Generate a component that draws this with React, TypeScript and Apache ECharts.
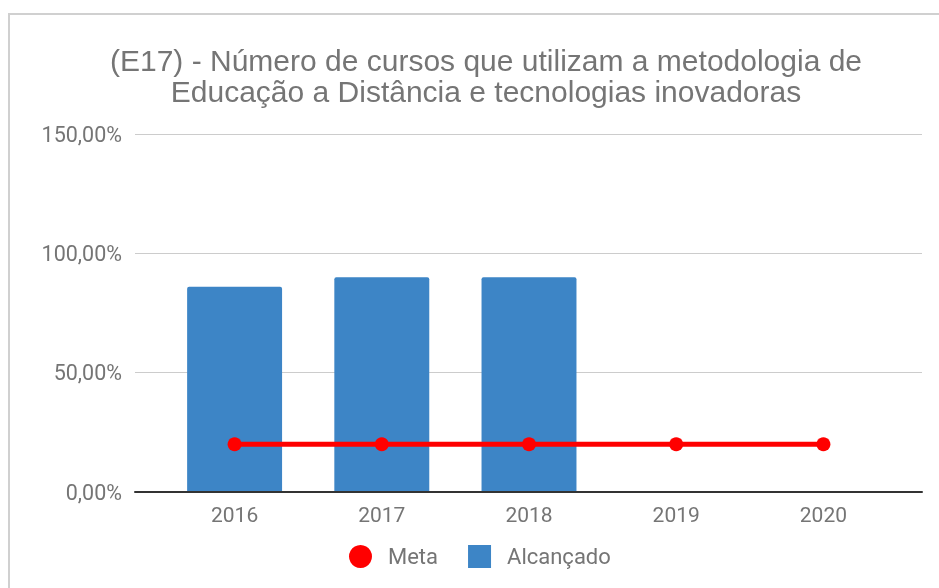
import React, { useEffect, useRef } from "react";
import * as echarts from "echarts";

const categories = ["2016", "2017", "2018", "2019", "2020"];
const alcancado: (number | null)[] = [86, 90, 90, null, null];
const meta = [20, 20, 20, 20, 20];
const yTicks = { min: 0, max: 150, interval: 50 };
const titleText =
  "(E17) - Número de cursos que utilizam a metodologia de\nEducação a Distância e tecnologias inovadoras";

export default function App() {
  const ref = useRef<HTMLDivElement>(null);
  useEffect(() => {
    if (!ref.current) return;
    const chart = echarts.init(ref.current, null, { renderer: "svg" });
    const font = "Roboto, 'Noto Sans', sans-serif";
    const titleFont = "'Liberation Sans', Arial, sans-serif";
    const fmt = (v: number) => v.toFixed(2).replace(".", ",") + "%";
    chart.setOption({
      animation: false,
      textStyle: { fontFamily: font },
      title: {
        text: titleText,
        left: 481,
        top: 40,
        textAlign: "center",
        textStyle: {
          fontFamily: titleFont,
          fontSize: 30,
          fontWeight: "normal",
          color: "#757575",
          lineHeight: 31,
        },
      },
      legend: {
        left: 349,
        top: 545,
        padding: 0,
        itemWidth: 23,
        itemHeight: 23,
        itemGap: 30,
        textStyle: { fontFamily: font, fontSize: 22, color: "#757575", padding: [0, 0, 0, 11] },
        data: [
          { name: "Meta", icon: "circle" },
          { name: "Alcançado", icon: "rect" },
        ],
      },
      grid: [
        { left: 135, right: 17, top: 134, bottom: 96 },
        { left: 161, right: 42, top: 134, bottom: 96 },
      ],
      xAxis: [
        {
          type: "category",
          gridIndex: 0,
          data: [""],
          axisLine: { show: true, lineStyle: { color: "#333", width: 2 } },
          axisTick: { show: false },
          axisLabel: { show: false },
          splitLine: { show: false },
          z: 5,
        },
        {
          type: "category",
          gridIndex: 1,
          data: categories,
          axisLine: { show: false },
          axisTick: { show: false },
          axisLabel: { fontFamily: font, fontSize: 21, color: "#757575", margin: 12 },
        },
      ],
      yAxis: [
        {
          type: "value",
          gridIndex: 0,
          ...yTicks,
          axisLine: { show: false },
          axisTick: { show: false },
          axisLabel: { formatter: fmt, fontFamily: font, fontSize: 21.5, color: "#757575", margin: 13 },
          splitLine: { lineStyle: { color: "#cccccc", width: 1 } },
        },
        {
          type: "value",
          gridIndex: 1,
          ...yTicks,
          show: false,
          splitLine: { show: false },
        },
      ],
      series: [
        {
          name: "Alcançado",
          type: "bar",
          xAxisIndex: 1,
          yAxisIndex: 1,
          data: alcancado,
          barWidth: "64.5%",
          itemStyle: { color: "#3d85c6", borderRadius: [2, 2, 0, 0] },
        },
        {
          name: "Meta",
          type: "line",
          xAxisIndex: 1,
          yAxisIndex: 1,
          data: meta,
          symbol: "circle",
          symbolSize: 14,
          itemStyle: { color: "#ff0000" },
          lineStyle: { color: "#ff0000", width: 5 },
          z: 3,
        },
      ],
    });
    return () => chart.dispose();
  }, []);
  return (
    <>
      <div
        style={{
          position: "fixed",
          left: 8,
          top: 13,
          width: 1200,
          height: 1000,
          borderLeft: "2px solid #d0d0d0",
          borderTop: "2px solid #d0d0d0",
          boxSizing: "border-box",
        }}
      />
      <div
        ref={ref}
        style={{ position: "fixed", left: 0, top: 0, width: 939, height: 588 }}
      />
    </>
  );
}
